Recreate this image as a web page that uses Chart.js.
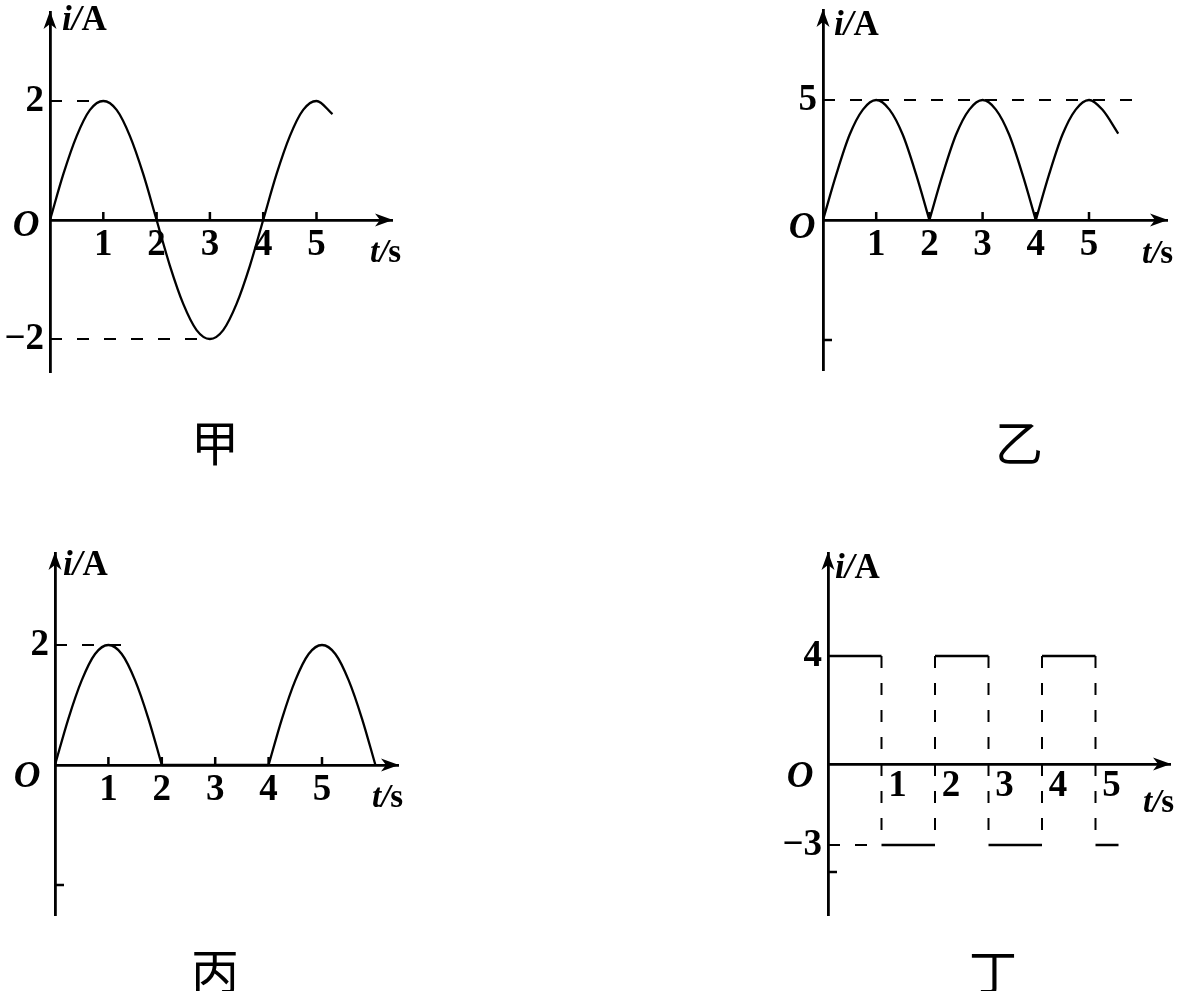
<!DOCTYPE html>
<html>
<head>
<meta charset="utf-8">
<script src="https://cdn.jsdelivr.net/npm/chart.js@4.4.1/dist/chart.umd.min.js"></script>
<style>
html, body { margin: 0; padding: 0; background: #fff; }
body { width: 1187px; height: 991px; position: relative; overflow: hidden; }
canvas { position: absolute; }
.cap {
    position: absolute;
    font-family: "Noto Sans CJK SC", sans-serif;
    font-size: 48px;
    line-height: 1;
    color: #000;
    transform: translate(-50%, -50%);
}
</style>
</head>
<body>
<canvas id="jia"></canvas>
<canvas id="yi"></canvas>
<canvas id="bing"></canvas>
<canvas id="ding"></canvas>
<div class="cap" style="left:215px;top:440px">甲</div>
<div class="cap" style="left:1019px;top:440px">乙</div>
<div class="cap" style="left:215px;top:968px">丙</div>
<div class="cap" style="left:993px;top:969px">丁</div>

<script>
const xTickValues = [1, 2, 3, 4, 5];

// 甲: sine current
const jiaTimes = [0, 0.25, 0.5, 0.75, 1, 1.25, 1.5, 1.75, 2, 2.25, 2.5, 2.75, 3, 3.25, 3.5, 3.75, 4, 4.25, 4.5, 4.75, 5, 5.3];
const jiaCurrent = [0, 0.77, 1.41, 1.85, 2, 1.85, 1.41, 0.77, 0, -0.77, -1.41, -1.85, -2, -1.85, -1.41, -0.77, 0, 0.77, 1.41, 1.85, 2, 1.78];
const jiaYLabels = [2, -2];
const jiaYMarks = [];
const jiaGuides = [[2, 0, 1], [-2, 0, 3]]; // level, from t, to t

// 乙: full-wave rectified
const yiTimes = [0, 0.25, 0.5, 0.75, 1, 1.25, 1.5, 1.75, 2, 2.25, 2.5, 2.75, 3, 3.25, 3.5, 3.75, 4, 4.25, 4.5, 4.75, 5, 5.25, 5.55];
const yiCurrent = [0, 1.9, 3.55, 4.6, 5, 4.6, 3.55, 1.9, 0, 1.9, 3.55, 4.6, 5, 4.6, 3.55, 1.9, 0, 1.9, 3.55, 4.6, 5, 4.6, 3.6];
const yiCusps = [2, 4];
const yiYLabels = [5];
const yiYMarks = [-5];
const yiGuides = [[5, 0, 5.83]];

// 丙: half-wave rectified
const bingTimes = [0, 0.25, 0.5, 0.75, 1, 1.25, 1.5, 1.75, 2, 2.5, 3, 3.5, 4, 4.25, 4.5, 4.75, 5, 5.25, 5.5, 5.75, 6];
const bingCurrent = [0, 0.77, 1.41, 1.85, 2, 1.85, 1.41, 0.77, 0, 0, 0, 0, 0, 0.77, 1.41, 1.85, 2, 1.85, 1.41, 0.77, 0];
const bingCusps = [2, 4];
const bingYLabels = [2];
const bingYMarks = [-2];
const bingGuides = [[2, 0, 1.46]];

// 丁: square wave
const dingEdges = [0, 1, 2, 3, 4, 5, 5.43];
const dingLevels = [4, -3, 4, -3, 4, -3];
const dingYLabels = [4, -3];
const dingYMarks = [-4];
const dingGuides = [[-3, 0, 1]];

const serif = '"Liberation Serif", "Times New Roman", serif';
const DASH = [12, 15];

function splitAt(ts, vs, cuts) {
    const parts = [];
    let cur = [];
    ts.forEach((t, i) => {
        cur.push({ x: t, y: vs[i] });
        if (cuts.includes(t)) {
            parts.push(cur);
            cur = [{ x: t, y: vs[i] }];
        }
    });
    if (cur.length > 1) parts.push(cur);
    return parts;
}

function curve(points) {
    return {
        data: points,
        borderColor: '#000',
        borderWidth: 2.3,
        pointRadius: 0,
        fill: false,
        cubicInterpolationMode: 'monotone',
    };
}

function guides(list) {
    return list.map(([lv, t0, t1]) => ({
        data: [{ x: t0, y: lv }, { x: t1, y: lv }],
        borderColor: '#000',
        borderWidth: 2,
        borderDash: DASH,
        pointRadius: 0,
        tension: 0,
        fill: false,
    }));
}

function dingHorizontal() {
    const pts = [];
    dingLevels.forEach((lv, i) => {
        pts.push({ x: dingEdges[i], y: lv }, { x: dingEdges[i + 1], y: lv }, { x: dingEdges[i + 1], y: null });
    });
    return pts;
}

function dingVertical() {
    const hi = Math.max(...dingLevels);
    const lo = Math.min(...dingLevels);
    const pts = [];
    dingEdges.slice(1, -1).forEach(t => {
        pts.push({ x: t, y: hi }, { x: t, y: lo }, { x: t, y: null });
    });
    return pts;
}

function arrow(ctx, x, y, ang) {
    ctx.save();
    ctx.translate(x, y);
    ctx.rotate(ang);
    ctx.beginPath();
    ctx.moveTo(1, 0);
    ctx.lineTo(-17, -6.5);
    ctx.lineTo(-12, 0);
    ctx.lineTo(-17, 6.5);
    ctx.closePath();
    ctx.fill();
    ctx.restore();
}

function mixedText(ctx, parts, x, y) {
    let cx = x;
    parts.forEach(([txt, font]) => {
        ctx.font = font;
        ctx.fillText(txt, cx, y);
        cx += ctx.measureText(txt).width;
    });
}

const axisDecor = {
    id: 'axisDecor',
    beforeDraw(chart) {
        // the y axis has zero width; widen its label clip box to the canvas edge
        chart.scales.y.left = 0;
    },
    afterDatasetsDraw(chart, args, opts) {
        const { ctx, chartArea: a, scales: { x, y } } = chart;
        const ox = x.getPixelForValue(0);
        const oy = y.getPixelForValue(0);
        ctx.save();
        ctx.fillStyle = '#000';
        ctx.strokeStyle = '#000';
        ctx.lineWidth = 2.5;
        arrow(ctx, a.right, oy, 0);
        arrow(ctx, ox, a.top, -Math.PI / 2);
        ctx.beginPath();
        if (opts.xMarks) {
            x.ticks.forEach(t => {
                const px = x.getPixelForValue(t.value);
                ctx.moveTo(px, oy);
                ctx.lineTo(px, oy - 8);
            });
        }
        (opts.yMarks || []).forEach(v => {
            const py = y.getPixelForValue(v);
            ctx.moveTo(ox, py);
            ctx.lineTo(ox + 9, py);
        });
        ctx.stroke();

        ctx.textAlign = 'center';
        ctx.textBaseline = 'middle';
        ctx.font = 'italic bold 37px ' + serif;
        ctx.fillText('O', ox + opts.oDx, oy + opts.oDy);

        ctx.textAlign = 'left';
        ctx.textBaseline = 'alphabetic';
        mixedText(ctx, [['i/', 'italic bold 35px ' + serif], ['A', 'bold 35px ' + serif]], ox + opts.iaDx, a.top + opts.iaDy);
        mixedText(ctx, [['t/', 'italic bold 33px ' + serif], ['s', 'bold 33px ' + serif]], a.right + opts.tsDx, oy + opts.tsDy);
        ctx.restore();
    },
};

function fmt(v) {
    return v < 0 ? '\u2212' + Math.abs(v) : String(v);
}

function makeChart(p) {
    const g = p.geom;
    const canvas = document.getElementById(p.id);
    canvas.width = g.w;
    canvas.height = g.h;
    canvas.style.left = g.left + 'px';
    canvas.style.top = g.top + 'px';

    const xMax = (g.tipX - g.ox) / g.ux;
    const yMax = (g.oy - g.tipY) / g.uy;
    const yMin = -(g.bottomY - g.oy) / g.uy;
    const tickFont = { family: serif, size: 37, weight: 'bold' };

    return new Chart(canvas.getContext('2d'), {
        type: 'line',
        data: { datasets: p.datasets },
        options: {
            responsive: false,
            animation: false,
            events: [],
            layout: {
                padding: {
                    left: g.ox - g.left,
                    right: g.left + g.w - g.tipX,
                    top: g.tipY - g.top,
                    bottom: g.top + g.h - g.bottomY,
                },
            },
            plugins: {
                legend: { display: false },
                tooltip: { enabled: false },
                axisDecor: p.decor,
            },
            scales: {
                x: {
                    type: 'linear',
                    min: 0,
                    max: xMax,
                    position: { y: 0 },
                    afterFit: s => { s.height = 0; s.paddingLeft = 0; s.paddingRight = 0; },
                    afterBuildTicks: s => { s.ticks = xTickValues.map(v => ({ value: v })); },
                    grid: { drawOnChartArea: false, drawTicks: false },
                    border: { display: true, color: '#000', width: 2.8 },
                    ticks: {
                        color: '#000',
                        font: tickFont,
                        padding: p.xPad,
                        labelOffset: p.xLabelOffset || 0,
                        autoSkip: false,
                        maxRotation: 0,
                        callback: v => fmt(v),
                    },
                },
                y: {
                    type: 'linear',
                    min: yMin,
                    max: yMax,
                    position: 'left',
                    afterFit: s => { s.width = 0; s.paddingTop = 0; s.paddingBottom = 0; },
                    afterBuildTicks: s => { s.ticks = p.yLabels.concat(p.decor.yMarks).map(v => ({ value: v })); },
                    grid: { drawOnChartArea: false, drawTicks: false },
                    border: { display: true, color: '#000', width: 2.8 },
                    ticks: {
                        color: '#000',
                        font: tickFont,
                        padding: 6,
                        autoSkip: false,
                        callback: v => (p.yLabels.includes(v) ? fmt(v) : ''),
                    },
                },
            },
        },
        plugins: [axisDecor],
    });
}

makeChart({
    id: 'jia',
    geom: { left: 0, top: 0, w: 593, h: 495, ox: 50, oy: 220, ux: 53.3, uy: 59.5, tipX: 392, tipY: 12, bottomY: 372 },
    datasets: [curve(splitAt(jiaTimes, jiaCurrent, [])[0]), ...guides(jiaGuides)],
    yLabels: jiaYLabels,
    xPad: 3,
    decor: { xMarks: true, yMarks: jiaYMarks, oDx: -24, oDy: 6, iaDx: 12, iaDy: 18, tsDx: -22, tsDy: 42 },
});

makeChart({
    id: 'yi',
    geom: { left: 593, top: 0, w: 594, h: 495, ox: 823, oy: 220, ux: 53.2, uy: 24, tipX: 1167, tipY: 10, bottomY: 370 },
    datasets: [...splitAt(yiTimes, yiCurrent, yiCusps).map(curve), ...guides(yiGuides)],
    yLabels: yiYLabels,
    xPad: 3,
    decor: { xMarks: true, yMarks: yiYMarks, oDx: -21, oDy: 8, iaDx: 11, iaDy: 25, tsDx: -25, tsDy: 43 },
});

makeChart({
    id: 'bing',
    geom: { left: 0, top: 495, w: 593, h: 496, ox: 55, oy: 765, ux: 53.4, uy: 60, tipX: 398, tipY: 553, bottomY: 915 },
    datasets: [...splitAt(bingTimes, bingCurrent, bingCusps).map(curve), ...guides(bingGuides)],
    yLabels: bingYLabels,
    xPad: 3,
    decor: { xMarks: true, yMarks: bingYMarks, oDx: -28, oDy: 12, iaDx: 8, iaDy: 22, tsDx: -26, tsDy: 42 },
});

makeChart({
    id: 'ding',
    geom: { left: 593, top: 495, w: 594, h: 496, ox: 828, oy: 764, ux: 53.5, uy: 27, tipX: 1170, tipY: 553, bottomY: 915 },
    datasets: [
        { data: dingHorizontal(), borderColor: '#000', borderWidth: 2.3, pointRadius: 0, tension: 0, fill: false },
        { data: dingVertical(), borderColor: '#000', borderWidth: 2, borderDash: DASH, pointRadius: 0, tension: 0, fill: false },
        ...guides(dingGuides),
    ],
    yLabels: dingYLabels,
    xPad: 0,
    xLabelOffset: 16,
    decor: { xMarks: false, yMarks: dingYMarks, oDx: -28, oDy: 13, iaDx: 7, iaDy: 25, tsDx: -27, tsDy: 48 },
});
</script>
</body>
</html>
